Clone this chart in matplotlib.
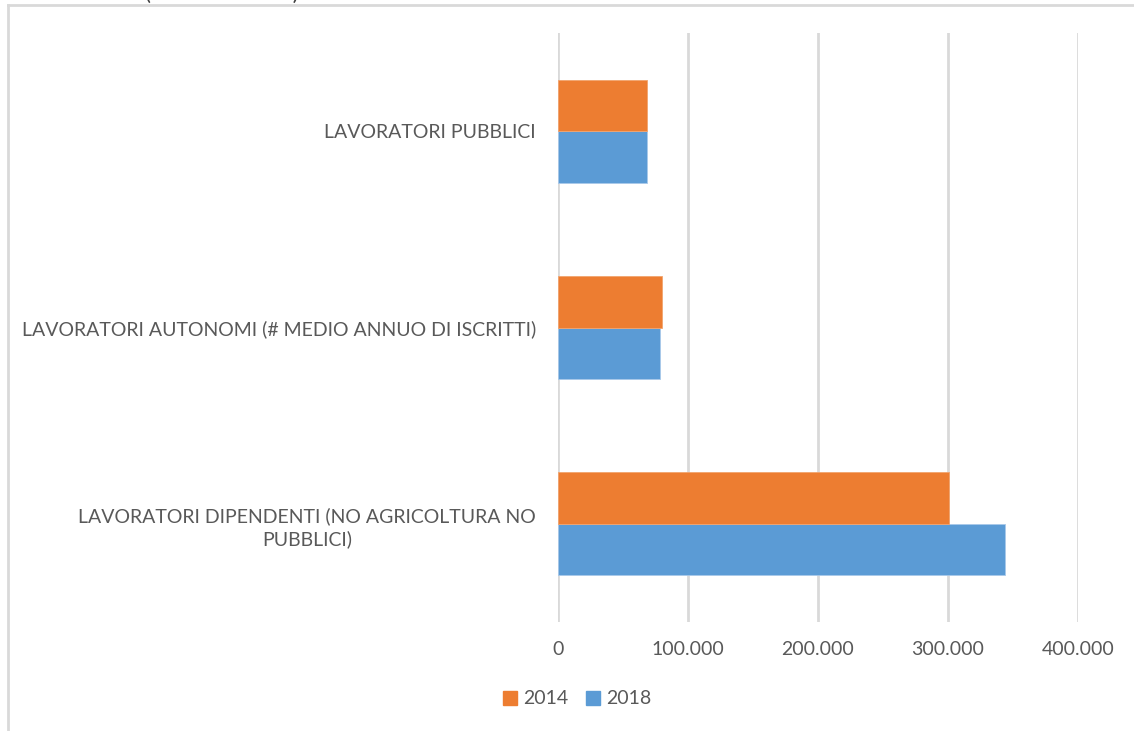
import matplotlib.pyplot as plt
import numpy as np
from matplotlib.patches import Patch
from matplotlib.lines import Line2D

categories = ['LAVORATORI DIPENDENTI (NO AGRICOLTURA NO\nPUBBLICI)',
              'LAVORATORI AUTONOMI (# MEDIO ANNUO DI ISCRITTI)',
              'LAVORATORI PUBBLICI']
val_2014 = [300800, 79700, 68200]
val_2018 = [344100, 78200, 68200]
ticks = [0, 100000, 200000, 300000, 400000]
tick_labels = ['0', '100.000', '200.000', '300.000', '400.000']

orange = '#ED7D31'
blue = '#5B9BD5'
grey = '#595959'
plt.rcParams['font.family'] = ['Lato', 'DejaVu Sans']

fig = plt.figure(figsize=(11.34, 7.31), dpi=100)
ax = fig.add_axes([558/1134, 1 - 622/731, (1078-558)/1134, (622-33)/731])

y = np.arange(len(categories))
h = 0.262
ax.barh(y - h/2, val_2018, height=h, color=blue, edgecolor='#a9c9ea', linewidth=0.6, zorder=3)
ax.barh(y + h/2, val_2014, height=h, color=orange, edgecolor='#f2a46e', linewidth=0.6, zorder=3)

ax.set_xlim(0, 400000)
ax.set_ylim(-0.5, 2.5)
ax.set_xticks(ticks)
ax.set_xticklabels(tick_labels)
ax.set_yticks(y)
ax.set_yticklabels(categories, multialignment='center', linespacing=1.35)
ax.tick_params(axis='x', length=0, pad=14, labelsize=14, labelcolor=grey)
ax.tick_params(axis='y', length=0, pad=16, labelsize=14, labelcolor=grey)
ax.grid(axis='x', color='#d9d9d9', linewidth=2, zorder=0)
for s in ax.spines.values():
    s.set_visible(False)

handles = [Patch(color=orange, label='2014'), Patch(color=blue, label='2018')]
fig.legend(handles=handles, loc='center', bbox_to_anchor=(577/1134, 1 - 699/731), ncol=2,
           frameon=False, fontsize=14, labelcolor=grey, handlelength=0.75, handleheight=0.75,
           handletextpad=0.3, columnspacing=0.9)

# outer frame of the chart area (cut by the picture edges)
fig.add_artist(Line2D([8/1134, 1], [1 - 5/731, 1 - 5/731], color='#d9d9d9', linewidth=2))
fig.add_artist(Line2D([8/1134, 8/1134], [0, 1 - 5/731], color='#d9d9d9', linewidth=2))
# title above, mostly cut off by the top edge
fig.text(145/1134, 1.0, '(VALORI MEDI)', fontsize=16, color='#404040', va='baseline', ha='left')

fig.savefig('out.png', dpi=100)
